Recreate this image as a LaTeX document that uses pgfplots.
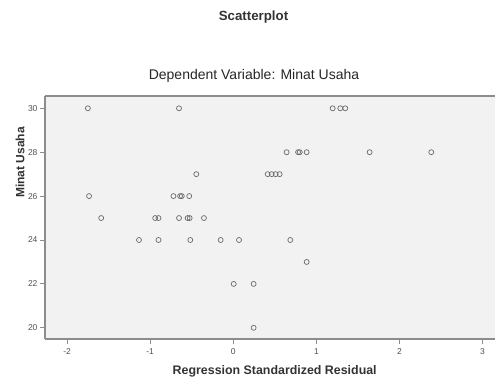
\documentclass[border=0pt]{standalone}
\usepackage{pgfplots}
\pgfplotsset{compat=1.18}
\usepackage{fontspec}
\setmainfont{Liberation Sans}
\definecolor{bgc}{HTML}{F2F2F2}
\definecolor{framec}{HTML}{8C8C8C}
\definecolor{markc}{HTML}{6A6A6A}
\definecolor{tickc}{HTML}{505050}
\begin{document}
\begin{tikzpicture}[x=1pt,y=1pt]
\useasboundingbox (0,0) rectangle (495,380);
\begin{axis}[
  at={(45pt,41pt)}, anchor=south west,
  scale only axis, width=450pt, height=243pt,
  xmin=-2.266, xmax=3.15, ymin=19.49, ymax=30.56,
  axis background/.style={fill=bgc},
  axis lines*=left,
  axis line style={framec, line width=1.1pt},
  xtick={-2,-1,0,1,2,3}, ytick={20,22,24,26,28,30},
  tick align=outside, major tick length=5pt,
  tick style={framec, line width=0.9pt},
  ticklabel style={font=\fontsize{8.5}{9}\selectfont, text=tickc},
  /pgf/number format/assume math mode=true,
  xticklabel style={yshift=-1pt},
  yticklabel style={xshift=1pt},
  clip=false,
]
\addplot[only marks, mark=o, mark size=2.5pt, mark options={draw=markc, line width=0.7pt}] coordinates {
(-1.75,30) (-0.653,30) (1.196,30) (1.288,30) (1.348,30)
(0.642,28) (0.78,28) (0.80,28) (0.883,28) (1.641,28) (2.383,28)
(-0.445,27) (0.414,27) (0.462,27) (0.51,27) (0.558,27)
(-1.736,26) (-0.72,26) (-0.64,26) (-0.62,26) (-0.53,26)
(-1.59,25) (-0.94,25) (-0.90,25) (-0.653,25) (-0.55,25) (-0.525,25) (-0.353,25)
(-1.135,24) (-0.90,24) (-0.517,24) (-0.152,24) (0.069,24) (0.686,24)
(0.883,23)
(0.005,22) (0.245,22)
(0.245,20)
};
\draw[framec, line width=1.1pt] (rel axis cs:0,1) -- (rel axis cs:1,1);
\end{axis}
\node[font=\bfseries\fontsize{13.3}{15}\selectfont, text=black!80] at (253.5,363) {Scatterplot};
\node[font=\fontsize{14}{16}\selectfont, text=black!85] at (254,304) {Dependent Variable: Minat Usaha};
\node[font=\bfseries\fontsize{12.4}{14}\selectfont, text=black!80] at (274.7,9) {Regression Standardized Residual};
\node[font=\bfseries\fontsize{12}{14}\selectfont, text=black!80, rotate=90] at (20,217.5) {Minat Usaha};
\end{tikzpicture}
\end{document}
